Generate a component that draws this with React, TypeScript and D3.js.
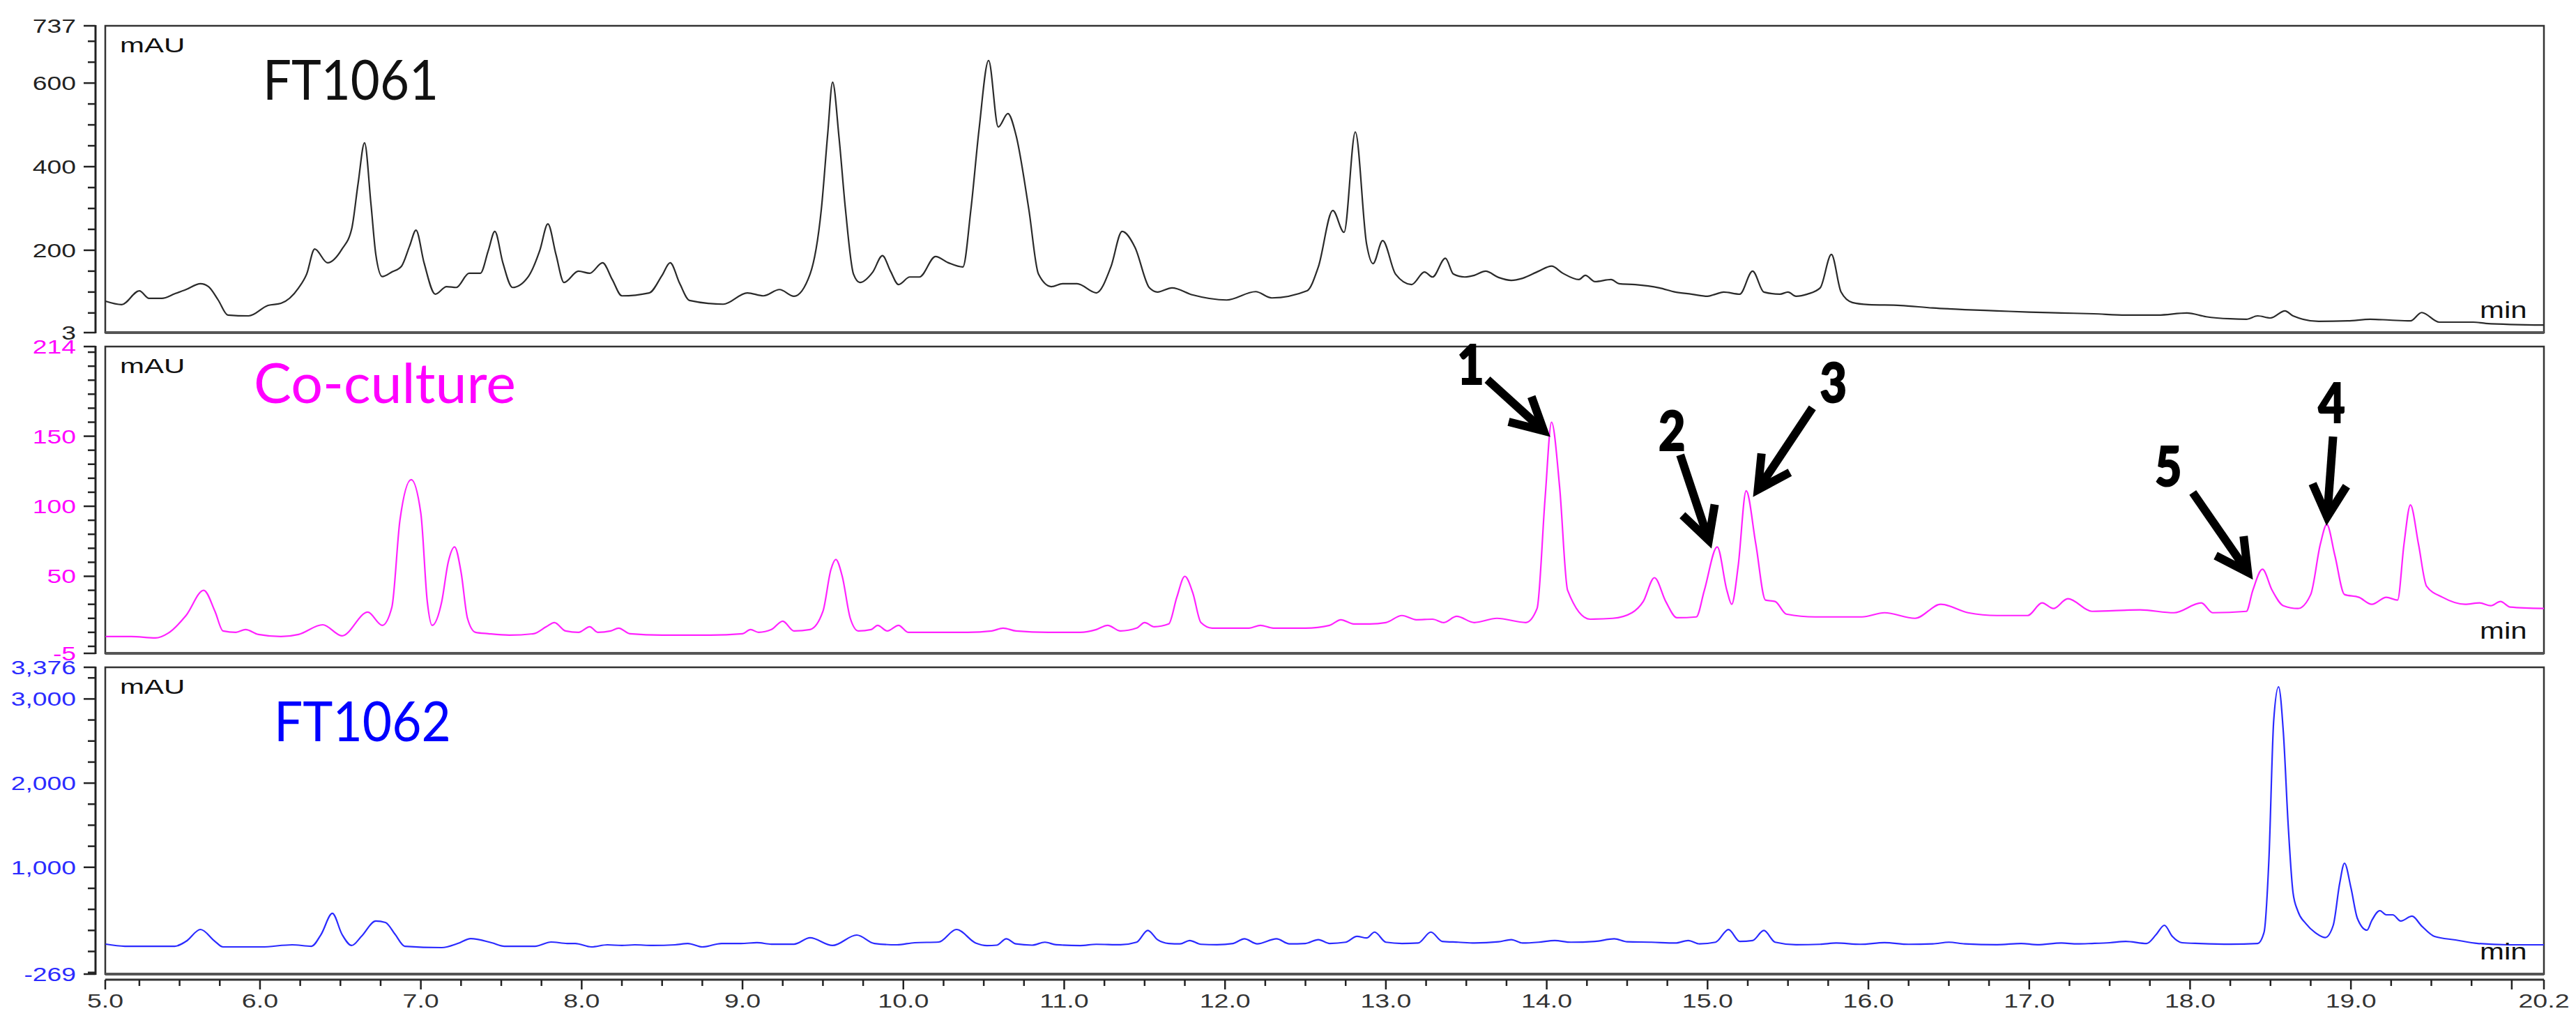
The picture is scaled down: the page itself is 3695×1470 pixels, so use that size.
import React from "react";
import * as d3 from "d3";

// ---------- data ----------
const xStart = 5.038;
const xEnd = 20.2;
const xMajorTicks = [6, 7, 8, 9, 10, 11, 12, 13, 14, 15, 16, 17, 18, 19, 20];
const xMajorLabels = ["6.0", "7.0", "8.0", "9.0", "10.0", "11.0", "12.0", "13.0", "14.0", "15.0", "16.0", "17.0", "18.0", "19.0", ""];
const xStartLabel = "5.0";
const xEndLabel = "20.2";

const panelNames = ["FT1061", "Co-culture", "FT1062"];
const panelColors = ["#111111", "#ff00ff", "#0000ff"];
const traceColors = ["#2a2a2a", "#ff22ff", "#2a2aff"];
const tickLabelColors = ["#222222", "#ff00ff", "#2b2bff"];
const yDomains: [number, number][] = [[3, 737], [-5, 214], [-269, 3376]];
const yMajorTicks = [[3, 200, 400, 600, 737], [-5, 50, 100, 150, 214], [-269, 1000, 2000, 3000, 3376]];
const yMajorLabels = [["3", "200", "400", "600", "737"], ["-5", "50", "100", "150", "214"], ["-269", "1,000", "2,000", "3,000", "3,376"]];
const yMinorSteps = [50, 10, 250];

const ft1061: [number, number][] = [
  [5.04, 78], [5.14, 70], [5.25, 103], [5.31, 85], [5.39, 85], [5.47, 96], [5.54, 106], [5.63, 120], [5.68, 113], [5.74, 81],
  [5.80, 45], [5.93, 43], [6.05, 68], [6.13, 73], [6.24, 110], [6.29, 143], [6.34, 203], [6.42, 170], [6.51, 203], [6.57, 251],
  [6.61, 360], [6.65, 457], [6.69, 310], [6.72, 190], [6.76, 137], [6.82, 148], [6.88, 162], [6.93, 210], [6.97, 248], [7.02, 170],
  [7.09, 95], [7.16, 113], [7.22, 111], [7.30, 145], [7.37, 145], [7.42, 200], [7.46, 245], [7.51, 170], [7.57, 111], [7.67, 138],
  [7.74, 200], [7.79, 263], [7.84, 190], [7.89, 123], [7.98, 150], [8.05, 145], [8.13, 170], [8.19, 130], [8.25, 91], [8.42, 98],
  [8.50, 140], [8.55, 170], [8.61, 120], [8.67, 80], [8.88, 71], [9.03, 98], [9.13, 91], [9.23, 106], [9.32, 90], [9.42, 143],
  [9.49, 298], [9.53, 480], [9.56, 602], [9.60, 470], [9.64, 298], [9.69, 143], [9.73, 123], [9.81, 148], [9.87, 187], [9.92, 150],
  [9.97, 118], [10.04, 136], [10.10, 136], [10.20, 185], [10.28, 170], [10.37, 160], [10.42, 298], [10.47, 487], [10.53, 654], [10.59, 495],
  [10.65, 527], [10.70, 476], [10.78, 298], [10.84, 143], [10.92, 113], [10.99, 120], [11.08, 120], [11.20, 98], [11.29, 160], [11.36, 245],
  [11.44, 207], [11.53, 110], [11.58, 100], [11.67, 110], [11.80, 93], [12.01, 81], [12.19, 101], [12.29, 86], [12.51, 103], [12.58, 160],
  [12.67, 295], [12.74, 243], [12.81, 483], [12.88, 215], [12.92, 168], [12.98, 223], [13.06, 143], [13.16, 118], [13.24, 148], [13.29, 136],
  [13.37, 181], [13.42, 143], [13.49, 136], [13.55, 140], [13.62, 150], [13.70, 135], [13.78, 128], [13.85, 133], [13.95, 150], [14.03, 162],
  [14.10, 145], [14.20, 130], [14.24, 140], [14.30, 125], [14.40, 130], [14.45, 120], [14.55, 118], [14.70, 110], [14.80, 100], [14.90, 95],
  [15.00, 90], [15.05, 95], [15.10, 100], [15.20, 95], [15.28, 150], [15.35, 100], [15.45, 95], [15.50, 100], [15.55, 90], [15.62, 95],
  [15.70, 110], [15.77, 190], [15.83, 100], [15.90, 75], [16.00, 70], [16.20, 68], [16.40, 62], [16.60, 58], [16.80, 55], [17.00, 52],
  [17.20, 50], [17.40, 48], [17.60, 45], [17.80, 45], [17.98, 50], [18.10, 41], [18.25, 36], [18.35, 35], [18.42, 43], [18.50, 38],
  [18.59, 55], [18.64, 43], [18.80, 30], [18.98, 31], [19.12, 35], [19.24, 33], [19.37, 31], [19.44, 51], [19.55, 28], [19.76, 28],
  [19.84, 25], [20.20, 21],
];

const coculture: [number, number][] = [
  [5.04, 7], [5.20, 7], [5.35, 6], [5.43, 9.5], [5.54, 22], [5.65, 40], [5.72, 25], [5.77, 11], [5.85, 10], [5.91, 12],
  [5.99, 8.5], [6.13, 7], [6.24, 8.5], [6.39, 15.4], [6.51, 7.5], [6.67, 24.4], [6.76, 15], [6.82, 28], [6.87, 90], [6.94, 119],
  [7.00, 95], [7.04, 32], [7.07, 15], [7.13, 32], [7.17, 60], [7.21, 71], [7.25, 53], [7.29, 20], [7.34, 10], [7.42, 9],
  [7.55, 8], [7.70, 9], [7.78, 14], [7.83, 17], [7.90, 11], [7.98, 10], [8.05, 14], [8.10, 10], [8.18, 11], [8.23, 13],
  [8.30, 9], [8.50, 8], [8.80, 8], [9.00, 9], [9.05, 12], [9.10, 10], [9.18, 12], [9.25, 18], [9.32, 11], [9.42, 12],
  [9.50, 25], [9.55, 55], [9.58, 62], [9.62, 50], [9.67, 20], [9.72, 11], [9.80, 12], [9.84, 15], [9.90, 11], [9.97, 15],
  [10.03, 10], [10.20, 10], [10.40, 10], [10.55, 11], [10.62, 13], [10.70, 11], [10.90, 10], [11.10, 10], [11.20, 12], [11.27, 15],
  [11.35, 11], [11.45, 13], [11.50, 17], [11.56, 14], [11.65, 16], [11.70, 35], [11.75, 50], [11.80, 38], [11.85, 17], [11.92, 13],
  [12.00, 13], [12.15, 13], [12.22, 15], [12.30, 13], [12.50, 13], [12.65, 15], [12.72, 19], [12.80, 16], [12.90, 16], [13.00, 17],
  [13.10, 22], [13.19, 19], [13.29, 19.4], [13.36, 17], [13.44, 21.4], [13.55, 17], [13.69, 20], [13.87, 17], [13.94, 27], [13.99, 106],
  [14.03, 160], [14.08, 114], [14.13, 40], [14.27, 19.4], [14.41, 20], [14.53, 24], [14.60, 32], [14.67, 49], [14.74, 32], [14.81, 20.4],
  [14.93, 21], [14.98, 40], [15.06, 71], [15.12, 40], [15.15, 30], [15.19, 57], [15.24, 111], [15.30, 73], [15.36, 33], [15.42, 32],
  [15.49, 23], [15.67, 21], [15.96, 21], [16.10, 24], [16.29, 20], [16.45, 30], [16.62, 24], [16.80, 22], [16.99, 22], [17.08, 31],
  [17.15, 27], [17.24, 34], [17.39, 25], [17.69, 26], [17.90, 24], [18.07, 31], [18.14, 24], [18.35, 25], [18.39, 40], [18.45, 55],
  [18.51, 40], [18.58, 29], [18.67, 27], [18.75, 37], [18.81, 73], [18.85, 87], [18.90, 65], [18.96, 37], [19.05, 35], [19.13, 30],
  [19.22, 35], [19.29, 33], [19.33, 73], [19.37, 101], [19.42, 73], [19.47, 43], [19.57, 35], [19.71, 30], [19.80, 31], [19.87, 29],
  [19.93, 32], [19.99, 28], [20.20, 27],
];

const ft1062: [number, number][] = [
  [5.04, 87], [5.16, 62], [5.47, 62], [5.54, 120], [5.63, 261], [5.72, 120], [5.77, 54], [6.01, 54], [6.20, 79], [6.32, 62],
  [6.38, 203], [6.45, 452], [6.51, 203], [6.57, 71], [6.63, 178], [6.72, 361], [6.78, 344], [6.84, 203], [6.90, 62], [7.13, 46],
  [7.23, 95], [7.31, 153], [7.44, 104], [7.52, 62], [7.71, 62], [7.81, 112], [7.91, 95], [7.96, 95], [8.06, 54], [8.16, 79],
  [8.25, 71], [8.33, 79], [8.44, 71], [8.58, 79], [8.66, 95], [8.75, 54], [8.87, 95], [8.99, 95], [9.09, 104], [9.18, 87],
  [9.32, 87], [9.42, 162], [9.56, 71], [9.71, 195], [9.82, 95], [9.96, 79], [10.07, 104], [10.22, 112], [10.33, 261], [10.45, 100],
  [10.52, 70], [10.58, 75], [10.64, 150], [10.70, 90], [10.80, 75], [10.88, 110], [10.95, 80], [11.10, 70], [11.20, 85], [11.35, 80],
  [11.45, 110], [11.52, 250], [11.58, 140], [11.65, 95], [11.72, 90], [11.78, 130], [11.85, 85], [11.95, 80], [12.05, 95], [12.12, 150],
  [12.20, 90], [12.32, 150], [12.40, 90], [12.50, 95], [12.58, 140], [12.65, 95], [12.75, 110], [12.82, 180], [12.88, 160], [12.93, 230],
  [13.00, 110], [13.10, 95], [13.20, 100], [13.28, 230], [13.35, 120], [13.45, 110], [13.55, 100], [13.70, 115], [13.78, 140], [13.85, 100],
  [13.95, 110], [14.05, 130], [14.15, 110], [14.30, 120], [14.42, 150], [14.50, 115], [14.65, 110], [14.80, 100], [14.88, 130], [14.95, 90],
  [15.05, 110], [15.13, 260], [15.20, 120], [15.28, 130], [15.35, 250], [15.42, 110], [15.55, 80], [15.70, 85], [15.80, 100], [15.95, 85],
  [16.10, 105], [16.25, 85], [16.40, 90], [16.50, 110], [16.60, 90], [16.80, 80], [16.95, 95], [17.05, 80], [17.20, 100], [17.30, 90],
  [17.39, 95], [17.50, 104], [17.60, 120], [17.73, 95], [17.79, 203], [17.84, 311], [17.89, 178], [17.95, 104], [18.06, 95], [18.25, 87],
  [18.42, 95], [18.46, 228], [18.49, 1090], [18.52, 2746], [18.55, 3144], [18.58, 2600], [18.61, 1500], [18.64, 700], [18.67, 480], [18.72, 330],
  [18.78, 220], [18.84, 165], [18.89, 311], [18.93, 808], [18.96, 1048], [19.00, 758], [19.04, 394], [19.10, 253], [19.13, 369], [19.18, 485],
  [19.22, 435], [19.26, 435], [19.31, 361], [19.38, 419], [19.44, 302], [19.52, 178], [19.65, 137], [19.79, 95], [19.98, 79], [20.20, 79],
];

const traces = [ft1061, coculture, ft1062];

// annotated peaks in the co-culture trace
const peakLabels = ["1", "2", "3", "4", "5"];
const peakTimes = [14.03, 15.06, 15.24, 18.85, 18.45];
const peakValues = [160, 71, 111, 87, 55];

// ---------- layout ----------
const W = 3695;
const H = 1470;
const LEFT = 151;
const RIGHT = 3649;
const PANEL_TOP = [37, 497, 957];
const PANEL_H = 440;
const AXIS_X = 137;
const XAXIS_Y = 1405;
const axisFont = "'Liberation Sans', Arial, sans-serif";
const titleFont = "Lato, 'Open Sans', sans-serif";
const titleLayout = [
  { x: 377, dy: 106, len: 252 },
  { x: 364, dy: 81, len: 376 },
  { x: 393, dy: 106, len: 254 },
];
// offsets relative to the peak apex: arrow tip, arrow tail, label baseline-center
const annLayout = [
  { tip: [-6, 17], tail: [-92, -61], label: [-116, -54] },
  { tip: [-10, -3], tail: [-53, -132], label: [-65, -138] },
  { tip: [13, 4], tail: [95, -119], label: [125, -127] },
  { tip: [0, -4], tail: [9, -126], label: [7, -146] },
  { tip: [-17, 10], tail: [-100, -110], label: [-135, -119] },
];

function Arrow({ x1, y1, x2, y2 }: { x1: number; y1: number; x2: number; y2: number }) {
  const a = Math.atan2(y2 - y1, x2 - x1);
  const L = 52;
  const th = (28 * Math.PI) / 180;
  const tx = x2 - 7 * Math.cos(a);
  const ty = y2 - 7 * Math.sin(a);
  const b1 = [tx - L * Math.cos(a - th), ty - L * Math.sin(a - th)];
  const b2 = [tx - L * Math.cos(a + th), ty - L * Math.sin(a + th)];
  return (
    <g stroke="#000" fill="none" strokeWidth={12}>
      <line x1={x1} y1={y1} x2={tx} y2={ty} strokeLinecap="butt" />
      <path d={`M${b1[0]},${b1[1]}L${tx},${ty}L${b2[0]},${b2[1]}`} strokeLinejoin="miter" strokeLinecap="butt" />
    </g>
  );
}

export default function App() {
  const x = d3.scaleLinear().domain([xStart, xEnd]).range([LEFT, RIGHT]);
  const yScales = yDomains.map((dom, i) =>
    d3.scaleLinear().domain(dom).range([PANEL_TOP[i] + PANEL_H, PANEL_TOP[i]])
  );

  const xMinor: number[] = [];
  for (let k = Math.ceil(xStart * 4); k / 4 <= 20.0001; k++) {
    const v = k / 4;
    if (Math.abs(v - Math.round(v)) > 1e-6) xMinor.push(v);
  }

  return (
    <svg
      width={W}
      height={H}
      viewBox={`0 0 ${W} ${H}`}
      style={{ position: "absolute", left: 0, top: 0, display: "block", background: "#fff" }}
    >
      <rect x={0} y={0} width={W} height={H} fill="#fff" />
      <defs>
        {PANEL_TOP.map((t, i) => (
          <clipPath id={`clip${i}`} key={i}>
            <rect x={LEFT} y={t} width={RIGHT - LEFT} height={PANEL_H} />
          </clipPath>
        ))}
      </defs>

      {traces.map((data, i) => {
        const y = yScales[i];
        const top = PANEL_TOP[i];
        const bottom = top + PANEL_H;
        const line = d3
          .line<[number, number]>()
          .x((d) => x(d[0]))
          .y((d) => y(d[1]))
          .curve(d3.curveMonotoneX);
        const [lo, hi] = yDomains[i];
        const step = yMinorSteps[i];
        const minors = d3
          .range(Math.ceil(lo / step) * step, hi, step)
          .filter((v) => !yMajorTicks[i].includes(v));
        return (
          <g key={i}>
            {/* frame */}
            <rect x={LEFT} y={top} width={RIGHT - LEFT} height={PANEL_H} fill="none" stroke="#333" strokeWidth={2.5} />
            <line x1={LEFT} x2={RIGHT} y1={bottom} y2={bottom} stroke="#555" strokeWidth={4} />
            {/* y axis */}
            <line x1={AXIS_X} x2={AXIS_X} y1={top - 1} y2={bottom + 1} stroke="#222" strokeWidth={3} />
            {minors.map((v) => (
              <line key={`m${v}`} x1={AXIS_X - 11} x2={AXIS_X} y1={y(v)} y2={y(v)} stroke="#222" strokeWidth={2.5} />
            ))}
            {yMajorTicks[i].map((v, j) => (
              <g key={`M${v}`}>
                <line x1={AXIS_X - 17} x2={AXIS_X} y1={y(v)} y2={y(v)} stroke="#222" strokeWidth={2.5} />
                <text
                  transform={`translate(109,${y(v) + 10}) scale(1.38,1)`}
                  textAnchor="end"
                  fontFamily={axisFont}
                  fontSize={27}
                  fill={tickLabelColors[i]}
                >
                  {yMajorLabels[i][j]}
                </text>
              </g>
            ))}
            {/* trace */}
            <path d={line(data) || ""} fill="none" stroke={traceColors[i]} strokeWidth={2.2} clipPath={`url(#clip${i})`} />
            {/* labels */}
            <text
              transform={`translate(172,${top + 38}) scale(1.4,1)`}
              fontFamily={axisFont}
              fontSize={30}
              fill="#111"
            >
              mAU
            </text>
            <text
              transform={`translate(3557,${bottom - 21}) scale(1.27,1)`}
              fontFamily={axisFont}
              fontSize={33}
              fill="#111"
            >
              min
            </text>
            <text
              x={titleLayout[i].x}
              y={top + titleLayout[i].dy}
              fontFamily={titleFont}
              fontSize={79}
              fill={panelColors[i]}
              textLength={titleLayout[i].len}
              lengthAdjust="spacingAndGlyphs"
            >
              {panelNames[i]}
            </text>
          </g>
        );
      })}

      {/* annotations on co-culture */}
      {peakLabels.map((lab, k) => {
        const px = x(peakTimes[k]);
        const py = yScales[1](peakValues[k]);
        const L = annLayout[k];
        return (
          <g key={lab}>
            <Arrow x1={px + L.tail[0]} y1={py + L.tail[1]} x2={px + L.tip[0]} y2={py + L.tip[1]} />
            <text
              transform={`translate(${px + L.label[0]},${py + L.label[1]}) scale(0.85,1)`}
              textAnchor="middle"
              fontFamily={titleFont}
              fontWeight={900}
              fontSize={78}
              fill="#000"
              stroke="#000"
              strokeWidth={2}
            >
              {lab}
            </text>
          </g>
        );
      })}

      {/* x axis */}
      <line x1={LEFT} x2={RIGHT} y1={XAXIS_Y} y2={XAXIS_Y} stroke="#333" strokeWidth={3} />
      {xMinor.map((v) => (
        <line key={`xm${v}`} x1={x(v)} x2={x(v)} y1={XAXIS_Y} y2={XAXIS_Y + 9} stroke="#222" strokeWidth={2.5} />
      ))}
      {[xStart, ...xMajorTicks, xEnd].map((v) => (
        <line key={`xM${v}`} x1={x(v)} x2={x(v)} y1={XAXIS_Y} y2={XAXIS_Y + 14} stroke="#222" strokeWidth={2.5} />
      ))}
      {[
        { v: xStart, t: xStartLabel },
        ...xMajorTicks.map((v, i) => ({ v, t: xMajorLabels[i] })),
        { v: xEnd, t: xEndLabel },
      ]
        .filter((d) => d.t !== "")
        .map((d) => (
          <text
            key={`xl${d.v}`}
            transform={`translate(${x(d.v)},1445) scale(1.34,1)`}
            textAnchor="middle"
            fontFamily={axisFont}
            fontSize={28}
            fill="#333"
          >
            {d.t}
          </text>
        ))}
    </svg>
  );
}
